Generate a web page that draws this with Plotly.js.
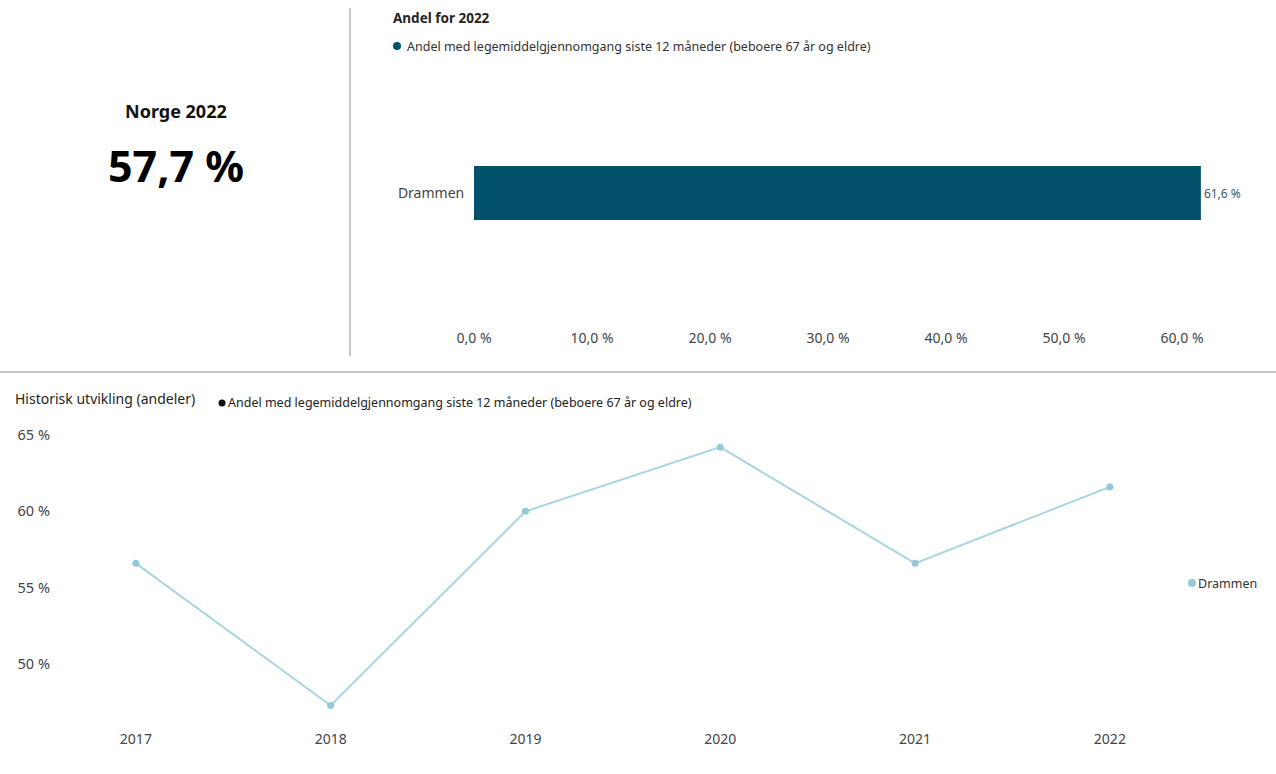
<!DOCTYPE html>
<html>
<head>
<meta charset="utf-8">
<script src="https://cdn.plot.ly/plotly-3.0.1.min.js"></script>
<style>
  html, body { margin: 0; padding: 0; background: #ffffff; }
  #chart { width: 1276px; height: 774px; }
</style>
</head>
<body>
<div id="chart"></div>
<script>
// Andel med legemiddelgjennomgang siste 12 måneder (beboere 67 år og eldre)
const measureName = 'Andel med legemiddelgjennomgang siste 12 måneder (beboere 67 år og eldre)';

// Nasjonalt tall
const norgeLabel = 'Norge 2022';
const norgeValue = 57.7;

// Andel for 2022, per kommune
const barCategories = ['Drammen'];
const barValues = [61.6];
const barTicks = [0, 10, 20, 30, 40, 50, 60];

// Historisk utvikling
const years = ['2017', '2018', '2019', '2020', '2021', '2022'];
const drammenShare = [56.6, 47.3, 60.0, 64.2, 56.6, 61.6];
const lineTicks = [50, 55, 60, 65];

const W = 1276, H = 774;
const FONT = 'Noto Sans, Open Sans, sans-serif';
const px = x => x / W;
const py = y => 1 - y / H;

const barColor = '#03506a';
const lineColor = '#a9d5e1';
const markerColor = '#94c9d9';
const textColor = '#3a3a3a';

const fmt = v => v.toFixed(1).replace('.', ',');

// small round legend marker drawn in page pixels
const dot = (cx, cy, r, color) => ({
  type: 'circle', xref: 'paper', yref: 'paper',
  x0: px(cx - r), x1: px(cx + r), y0: py(cy + r), y1: py(cy - r),
  fillcolor: color, line: { width: 0 }
});

const traces = [
  {
    type: 'bar',
    orientation: 'h',
    name: measureName,
    x: barValues,
    y: barCategories,
    xaxis: 'x',
    yaxis: 'y',
    width: 0.2,
    marker: { color: barColor },
    text: barValues.map(v => fmt(v) + ' %'),
    textposition: 'outside',
    cliponaxis: false,
    textfont: { family: FONT, size: 12, color: '#3d5966' },
    hoverinfo: 'x+y',
    showlegend: false
  },
  {
    type: 'scatter',
    mode: 'lines+markers',
    name: 'Drammen',
    x: years,
    y: drammenShare,
    xaxis: 'x2',
    yaxis: 'y2',
    line: { color: lineColor, width: 2 },
    marker: { color: markerColor, size: 7 },
    cliponaxis: false,
    showlegend: false
  }
];

const layout = {
  width: W,
  height: H,
  margin: { l: 0, r: 0, t: 0, b: 0 },
  paper_bgcolor: '#ffffff',
  plot_bgcolor: '#ffffff',
  separators: ', ',
  font: { family: FONT, color: textColor },
  showlegend: false,
  xaxis: {
    domain: [px(474), px(1241)],
    range: [0, 65],
    tickvals: barTicks,
    ticktext: barTicks.map(v => fmt(v) + ' %'),
    showgrid: false,
    zeroline: false,
    showline: false,
    ticks: '',
    tickfont: { family: FONT, size: 14, color: '#444' },
    fixedrange: true
  },
  yaxis: {
    domain: [py(328), py(58)],
    range: [-0.5, 0.5],
    type: 'category',
    showgrid: false,
    zeroline: false,
    showline: false,
    ticks: 'outside',
    ticklen: 6,
    tickcolor: 'rgba(0,0,0,0)',
    tickfont: { family: FONT, size: 14, color: '#444' },
    fixedrange: true
  },
  xaxis2: {
    domain: [px(56), px(1180)],
    type: 'category',
    range: [-0.41, 5.36],
    showgrid: false,
    zeroline: false,
    showline: false,
    ticks: '',
    tickfont: { family: FONT, size: 14, color: '#444' },
    anchor: 'y2',
    fixedrange: true
  },
  yaxis2: {
    domain: [py(729), py(425)],
    range: [45.76, 65.65],
    tickvals: lineTicks,
    ticktext: lineTicks.map(v => v + ' %'),
    showgrid: false,
    zeroline: false,
    showline: false,
    ticks: '',
    ticklabelstandoff: 5,
    tickfont: { family: FONT, size: 14.5, color: '#444' },
    anchor: 'x2',
    fixedrange: true
  },
  shapes: [
    // vertical divider between card and bar chart
    { type: 'line', xref: 'paper', yref: 'paper', x0: px(350), x1: px(350), y0: py(8), y1: py(356),
      line: { color: '#c8c8c8', width: 2 } },
    // horizontal divider above history chart
    { type: 'line', xref: 'paper', yref: 'paper', x0: 0, x1: 1, y0: py(372), y1: py(372),
      line: { color: '#c8c8c8', width: 2 } },
    // legend markers
    dot(397, 46, 4, barColor),
    dot(222, 403, 3.5, '#111111'),
    dot(1192, 583, 4, markerColor)
  ],
  annotations: [
    { xref: 'paper', yref: 'paper', x: px(176), y: py(111), text: '<b>' + norgeLabel + '</b>',
      showarrow: false, xanchor: 'center', yanchor: 'middle',
      font: { family: FONT, size: 18, color: '#111' } },
    { xref: 'paper', yref: 'paper', x: px(176), y: py(166), text: '<b>' + fmt(norgeValue) + ' %</b>',
      showarrow: false, xanchor: 'center', yanchor: 'middle',
      font: { family: FONT, size: 43, color: '#000' } },
    { xref: 'paper', yref: 'paper', x: px(391), y: py(18), text: '<b>Andel for 2022</b>',
      showarrow: false, xanchor: 'left', yanchor: 'middle',
      font: { family: FONT, size: 13.5, color: '#252423' } },
    { xref: 'paper', yref: 'paper', x: px(405), y: py(46), text: measureName,
      showarrow: false, xanchor: 'left', yanchor: 'middle',
      font: { family: FONT, size: 12.5, color: '#333' } },
    { xref: 'paper', yref: 'paper', x: px(13), y: py(398), text: 'Historisk utvikling (andeler)',
      showarrow: false, xanchor: 'left', yanchor: 'middle',
      font: { family: FONT, size: 14, color: '#252423' } },
    { xref: 'paper', yref: 'paper', x: px(226), y: py(403), text: measureName,
      showarrow: false, xanchor: 'left', yanchor: 'middle',
      font: { family: FONT, size: 12.5, color: '#222' } },
    { xref: 'paper', yref: 'paper', x: px(1196), y: py(583), text: 'Drammen',
      showarrow: false, xanchor: 'left', yanchor: 'middle',
      font: { family: FONT, size: 12.5, color: '#333' } }
  ]
};

Plotly.newPlot('chart', traces, layout, { displayModeBar: false, staticPlot: true });
</script>
</body>
</html>
